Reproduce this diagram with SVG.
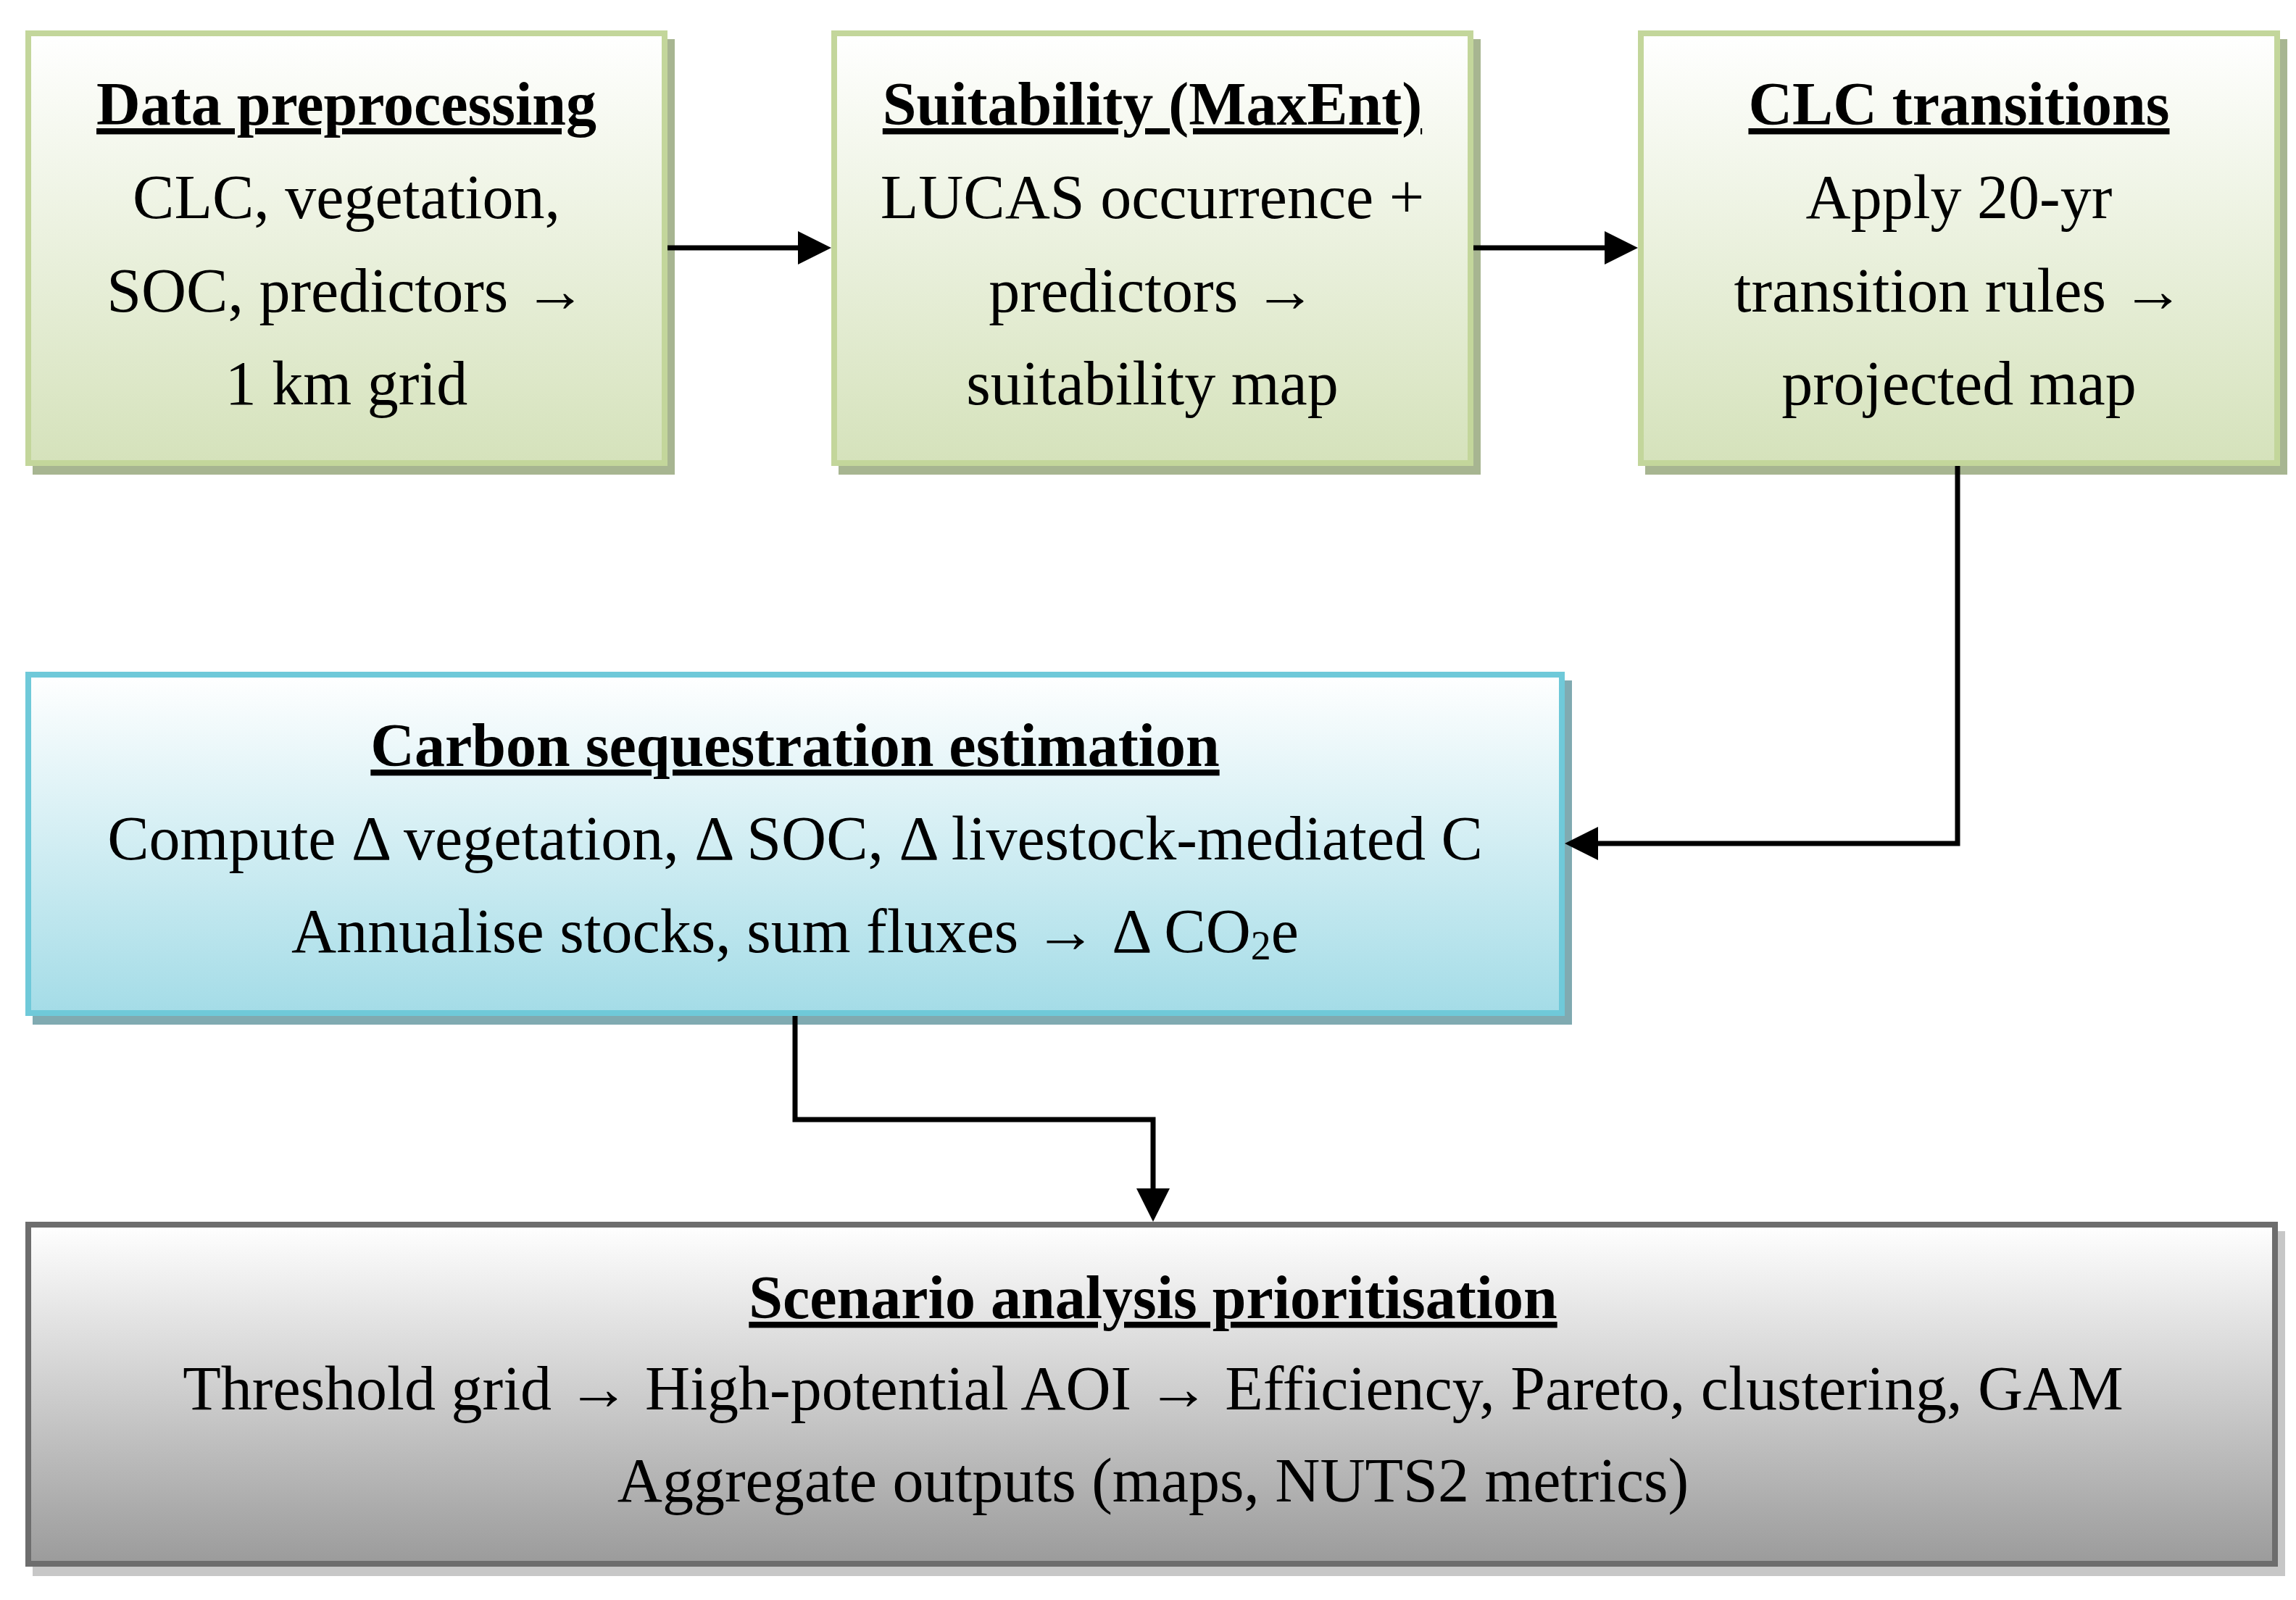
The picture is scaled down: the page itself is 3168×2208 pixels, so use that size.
<svg xmlns="http://www.w3.org/2000/svg" width="3168" height="2208" viewBox="0 0 3168 2208">
<defs>
<linearGradient id="gGreen" x1="0" y1="0" x2="0" y2="1"><stop offset="0" stop-color="#ffffff"/><stop offset="1" stop-color="#d5e2bb"/></linearGradient>
<linearGradient id="gCyan" x1="0" y1="0" x2="0" y2="1"><stop offset="0" stop-color="#ffffff"/><stop offset="1" stop-color="#a4dce7"/></linearGradient>
<linearGradient id="gGray" x1="0" y1="0" x2="0" y2="1"><stop offset="0" stop-color="#ffffff"/><stop offset="1" stop-color="#9b9b9b"/></linearGradient>
<marker id="ah" markerUnits="userSpaceOnUse" markerWidth="46" markerHeight="46" refX="2" refY="23" orient="auto"><path d="M0,0 L46,23 L0,46 z" fill="#000"/></marker>
<style>
.green{fill:url(#gGreen);stroke:#c3d69b;stroke-width:8}
.greenSh{fill:#a7b591}
.cyan{fill:url(#gCyan);stroke:#6fc9d9;stroke-width:8}
.cyanSh{fill:#80aab1}
.gray{fill:url(#gGray);stroke:#6d6d6d;stroke-width:8}
.graySh{fill:#c7c7c7}
text{font-family:"Liberation Serif","Times New Roman",serif;font-size:86px;fill:#000;text-anchor:middle}
.t{font-size:84px;font-weight:bold;text-decoration:underline;text-decoration-skip-ink:none;text-decoration-thickness:6px}
.conn{fill:none;stroke:#000;stroke-width:7;marker-end:url(#ah)}
</style>
</defs>
<rect width="3168" height="2208" fill="#fff"/>
<g id="data-preprocessing">
<rect class="greenSh" x="45" y="54" width="886" height="601"/>
<rect class="green" x="39" y="46" width="878" height="593"/>
<text class="t" x="478" y="172">Data preprocessing</text>
<text x="478" y="301">CLC, vegetation,</text>
<text x="478" y="430">SOC, predictors →</text>
<text x="478" y="558">1 km grid</text>
</g>
<g id="suitability">
<rect class="greenSh" x="1157" y="54" width="886" height="601"/>
<rect class="green" x="1151" y="46" width="878" height="593"/>
<text class="t" x="1590" y="172">Suitability (MaxEnt)</text>
<text x="1590" y="301">LUCAS occurrence +</text>
<text x="1590" y="430">predictors →</text>
<text x="1590" y="558">suitability map</text>
</g>
<g id="clc-transitions">
<rect class="greenSh" x="2270" y="54" width="886" height="601"/>
<rect class="green" x="2264" y="46" width="878" height="593"/>
<text class="t" x="2703" y="172">CLC transitions</text>
<text x="2703" y="301">Apply 20-yr</text>
<text x="2703" y="430">transition rules →</text>
<text x="2703" y="558">projected map</text>
</g>
<g id="carbon-sequestration">
<rect class="cyanSh" x="45" y="939" width="2124" height="475"/>
<rect class="cyan" x="39" y="931" width="2116" height="467"/>
<text class="t" x="1097" y="1057">Carbon sequestration estimation</text>
<text x="1097" y="1186">Compute Δ vegetation, Δ SOC, Δ livestock-mediated C</text>
<text x="1097" y="1314">Annualise stocks, sum fluxes → Δ CO<tspan font-size="56" dy="10">2</tspan><tspan dy="-10">e</tspan></text>
</g>
<g id="scenario-analysis">
<rect class="graySh" x="45" y="1699" width="3108" height="476"/>
<rect class="gray" x="39" y="1690" width="3100" height="468"/>
<text class="t" x="1591" y="1819">Scenario analysis prioritisation</text>
<text x="1591" y="1945">Threshold grid → High-potential AOI → Efficiency, Pareto, clustering, GAM</text>
<text x="1591" y="2072">Aggregate outputs (maps, NUTS2 metrics)</text>
</g>
<g id="connectors">
<path class="conn" d="M921,342 H1103"/>
<path class="conn" d="M2033,342 H2216"/>
<path class="conn" d="M2701,643 V1164 H2203"/>
<path class="conn" d="M1097,1402 V1545 H1591 V1642"/>
</g>
</svg>
